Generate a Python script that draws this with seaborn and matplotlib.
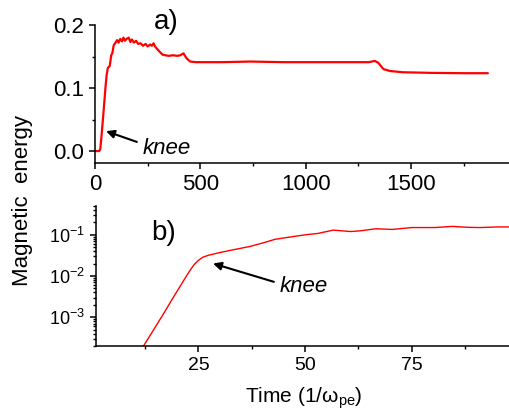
import seaborn as sns
import matplotlib.pyplot as plt
import matplotlib.ticker as mticker
import pandas as pd

sns.set_style("ticks")
plt.rcParams['font.family'] = ['Liberation Sans', 'DejaVu Sans']
plt.rcParams['mathtext.fontset'] = 'custom'
plt.rcParams['mathtext.rm'] = 'Liberation Sans'
plt.rcParams['mathtext.it'] = 'Liberation Sans:italic'
plt.rcParams['mathtext.default'] = 'regular'
plt.rcParams['text.color'] = 'black'
plt.rcParams['axes.labelcolor'] = 'black'

# panel a) long run, linear scale
t_long = [0, 20, 25, 30, 40, 50, 55, 61, 70, 77, 82, 89, 95, 105, 112, 120, 128,
          135, 142, 150, 160, 168, 175, 185, 195, 205, 216, 228, 240, 250, 262,
          270, 278, 285, 300, 320, 334, 350, 370, 390, 405, 420, 435, 452, 480,
          600, 737, 900, 1100, 1250, 1300, 1328, 1345, 1369, 1400, 1462, 1600,
          1750, 1865]
e_long = [0.0, 0.0, 0.003, 0.02, 0.06, 0.102, 0.12, 0.132, 0.135, 0.152, 0.155,
          0.168, 0.171, 0.176, 0.172, 0.178, 0.174, 0.180, 0.175, 0.178, 0.180,
          0.173, 0.177, 0.172, 0.175, 0.170, 0.171, 0.167, 0.170, 0.166, 0.169,
          0.167, 0.171, 0.166, 0.160, 0.153, 0.152, 0.151, 0.152, 0.151, 0.152,
          0.155, 0.147, 0.142, 0.141, 0.141, 0.142, 0.141, 0.141, 0.141, 0.141,
          0.143, 0.140, 0.130, 0.127, 0.125, 0.124, 0.1235, 0.1235]

# panel b) early growth, log scale
t_early = [12, 15, 17, 19, 20.8, 22, 23.1, 24, 25, 26, 27.4, 30, 33, 37, 40,
           43, 47, 50, 53, 56.6, 60.6, 63, 66.5, 70.5, 75, 80.4, 84.5, 88, 91,
           95, 98]
e_early = [1.9e-4, 6.0e-4, 1.3e-3, 2.9e-3, 5.8e-3, 9.3e-3, 0.014, 0.019, 0.024,
           0.0285, 0.032, 0.037, 0.043, 0.052, 0.063, 0.078, 0.09, 0.10, 0.108,
           0.13, 0.12, 0.125, 0.14, 0.135, 0.15, 0.15, 0.16, 0.152, 0.15, 0.155,
           0.155]

df_a = pd.DataFrame({"t": t_long, "E": e_long})
df_b = pd.DataFrame({"t": t_early, "E": e_early})

fig = plt.figure(figsize=(5.1, 4.15), dpi=100)
ax1 = fig.add_axes([95 / 510, 1 - 163 / 415, 415 / 510, 138 / 415])
ax2 = fig.add_axes([96 / 510, 1 - 346 / 415, 414 / 510, 140 / 415])

sns.lineplot(data=df_a, x="t", y="E", ax=ax1, color="red", linewidth=1.6)
sns.lineplot(data=df_b, x="t", y="E", ax=ax2, color="red", linewidth=1.0)

ax1.set_xlim(0, 1970)
ax1.set_ylim(-0.019, 0.2)
ax1.xaxis.set_major_locator(mticker.MultipleLocator(500))
ax1.xaxis.set_minor_locator(mticker.MultipleLocator(250))
ax1.yaxis.set_major_locator(mticker.MultipleLocator(0.1))
ax1.yaxis.set_minor_locator(mticker.MultipleLocator(0.05))
ax1.yaxis.set_major_formatter(mticker.FormatStrFormatter('%.1f'))

ax2.set_yscale("log")
ax2.set_xlim(1, 98)
ax2.set_ylim(2e-4, 0.5)
ax2.xaxis.set_major_locator(mticker.MultipleLocator(25))
ax2.xaxis.set_minor_locator(mticker.MultipleLocator(12.5))
ax2.yaxis.set_major_locator(mticker.FixedLocator([1e-3, 1e-2, 1e-1]))
ax2.yaxis.set_minor_locator(mticker.LogLocator(base=10, subs=range(2, 10), numticks=20))
ax2.yaxis.set_minor_formatter(mticker.NullFormatter())

for ax, fs in ((ax1, 16), (ax2, 14)):
    sns.despine(ax=ax)
    ax.set_xlabel("")
    ax.set_ylabel("")
    for s in ("left", "bottom"):
        ax.spines[s].set_linewidth(1.1)
        ax.spines[s].set_color("black")
    ax.tick_params(which="major", direction="out", length=4.5, width=1.1,
                   colors="black", labelsize=fs)
    ax.tick_params(which="minor", direction="out", length=2.5, width=1.0,
                   colors="black")
ax2.tick_params(axis="y", labelsize=13)

ax1.text(0.171, 1.02, "a)", transform=ax1.transAxes, fontsize=20,
         ha="center", va="center")
ax2.text(0.164, 0.81, "b)", transform=ax2.transAxes, fontsize=20,
         ha="center", va="center")

ax1.annotate("", xy=(40, 0.033), xytext=(211, 0.013),
             arrowprops=dict(arrowstyle="-|>", color="black", lw=1.5,
                             mutation_scale=12))
ax1.text(339, 0.004, "knee", fontsize=16, style="italic", ha="center", va="center")

ax2.annotate("", xy=(27.8, 0.021), xytext=(43.3, 0.0069),
             arrowprops=dict(arrowstyle="-|>", color="black", lw=1.5,
                             mutation_scale=12))
ax2.text(49.6, 0.0055, "knee", fontsize=16, style="italic", ha="center", va="center")

fig.text(0.045, 0.518, "Magnetic  energy", rotation=90, fontsize=16,
         ha="center", va="center")
fig.text(0.595, 0.04, r"Time (1/$\omega_{\rm pe}$)", fontsize=15,
         ha="center", va="center")

plt.savefig("out.png", dpi=100)
